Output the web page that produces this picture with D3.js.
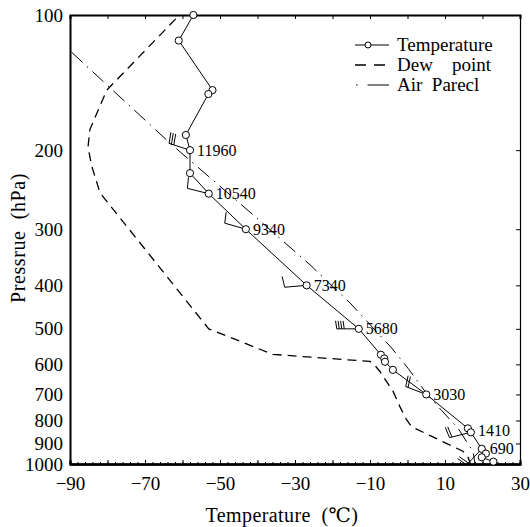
<!DOCTYPE html>
<html>
<head>
<meta charset="utf-8">
<script src="https://cdn.jsdelivr.net/npm/d3@7"></script>
<style>
  body { margin: 0; background: #fff; }
  svg text { font-family: "Liberation Serif", "DejaVu Serif", serif; fill: #000; }
</style>
</head>
<body>
<svg id="chart" width="530" height="527"></svg>
<script>
// temperature sounding (hPa, degC)
const tempP = [100, 114, 147, 150, 185, 200, 225, 250, 300, 400, 500, 571, 582, 592, 617, 700, 833, 850, 925, 948, 966, 988]
const tempT = [-57.1, -61.0, -52.0, -53.1, -59.1, -58.0, -58.0, -53.0, -43.1, -26.9, -13.0, -7.1, -6.2, -6.0, -3.9, 5.0, 16.1, 16.9, 19.8, 20.9, 19.8, 22.9]

// dew point
const dewP = [102, 147, 180, 197, 217, 249, 500, 570, 591, 603, 623, 690, 746, 798, 826, 938, 968, 1000]
const dewT = [-61.8, -80.2, -84.7, -85.2, -84.2, -82.0, -53.0, -35.9, -10.0, -8.7, -7.3, -3.8, -2.0, -0.2, 1.1, 14.9, 16.2, 16.8]

// air parcel
const parcelP = [121, 193, 279, 360, 438, 552, 613, 697, 760, 833, 940, 1000]
const parcelT = [-89.6, -63.3, -41.1, -26.0, -15.3, -4.2, 0.2, 5.1, 9.1, 13.5, 17.5, 18.0]

// height labels and wind barbs at standard levels
const levelP = [200, 250, 300, 400, 500, 700, 850, 925]
const levelH = ['11960', '10540', '9340', '7340', '5680', '3030', '1410', '690']
const windDir = [288, 284, 286, 265, 270, 291, 256, 223]
const windSpd = [30, 10, 10, 10, 40, 20, 20, 20]

const xTicks = [-90, -70, -50, -30, -10, 10, 30]
const yTicks = [100, 200, 300, 400, 500, 600, 700, 800, 900, 1000]

const svg = d3.select('#chart')
const mLeft = 70, mRight = 520, mTop = 15, mBottom = 464

const x = d3.scaleLinear().domain([-90, 30]).range([mLeft, mRight])
const y = d3.scaleLog().domain([100, 1000]).range([mTop, mBottom])

const fmt = d3.format('d')

// axes
const gBottom = svg.append('g').attr('transform', `translate(0,${mBottom})`)
gBottom.append('g')
  .call(d3.axisBottom(x).tickValues(d3.range(-90, 31, 2)).tickSize(-2).tickFormat(''))
gBottom.append('g')
  .call(d3.axisBottom(x).tickValues(d3.range(-90, 31, 10)).tickSize(-4).tickFormat(''))
gBottom.append('g')
  .call(d3.axisBottom(x).tickValues(xTicks).tickSize(0).tickPadding(13).tickFormat(d3.format('')))
gBottom.selectAll('.domain').attr('stroke-width', 2)

svg.append('g').attr('transform', `translate(0,${mTop})`)
  .call(d3.axisTop(x).tickValues(d3.range(-90, 31, 10)).tickSize(-4).tickFormat(''))
  .select('.domain').attr('stroke-width', 2)

svg.append('g').attr('transform', `translate(${mRight},0)`)
  .call(d3.axisRight(y).tickValues(yTicks).tickSize(-4).tickFormat(''))
  .select('.domain').attr('stroke-width', 1.2)

svg.append('g').attr('transform', `translate(${mLeft},0)`)
  .call(d3.axisLeft(y).tickValues(yTicks).tickSize(0).tickPadding(7).tickFormat(fmt))
  .select('.domain').attr('stroke-width', 2)

svg.selectAll('.tick text')
  .style('font-family', '"Liberation Serif", serif')
  .style('font-size', '19px')
  .attr('fill', '#000')
svg.selectAll('.domain, .tick line').attr('stroke', '#000')

// axis titles
svg.append('text')
  .attr('x', 282)
  .attr('y', 522)
  .attr('text-anchor', 'middle')
  .style('font-size', '20px')
  .style('letter-spacing', '0.4px')
  .style('white-space', 'pre')
  .text('Temperature  (℃)')

svg.append('text')
  .attr('transform', `translate(25,238) rotate(-90)`)
  .attr('text-anchor', 'middle')
  .style('font-size', '20px')
  .style('letter-spacing', '0.6px')
  .style('white-space', 'pre')
  .text('Pressrue  (hPa)')

const line = d3.line().x(d => x(d[1])).y(d => y(d[0]))

// dew point
svg.append('path')
  .datum(d3.zip(dewP, dewT))
  .attr('d', line)
  .attr('fill', 'none')
  .attr('stroke', '#000')
  .attr('stroke-width', 1.3)
  .attr('stroke-dasharray', '9,6')

// air parcel
svg.append('path')
  .datum(d3.zip(parcelP, parcelT))
  .attr('d', line)
  .attr('fill', 'none')
  .attr('stroke', '#000')
  .attr('stroke-width', 1)
  .attr('stroke-dasharray', '15,6,1.5,6')

// temperature
svg.append('path')
  .datum(d3.zip(tempP, tempT))
  .attr('d', line)
  .attr('fill', 'none')
  .attr('stroke', '#000')
  .attr('stroke-width', 1)

// wind barbs
const barbs = svg.append('g').attr('stroke', '#000').attr('stroke-width', 1).attr('fill', 'none')
levelP.forEach((p, i) => {
  const t = tempT[tempP.indexOf(p)]
  const px = x(t), py = y(p)
  const a = windDir[i] * Math.PI / 180
  const ux = Math.sin(a), uy = -Math.cos(a)
  const vx = -uy, vy = ux
  const L = 22
  const ex = px + L * ux, ey = py + L * uy
  barbs.append('line').attr('x1', px).attr('y1', py).attr('x2', ex).attr('y2', ey)
  const n = Math.floor(windSpd[i] / 10)
  const f = n > 3 ? 8 : 11
  for (let k = 0; k < n; k++) {
    const sx = ex - k * 2.5 * ux, sy = ey - k * 2.5 * uy
    barbs.append('line')
      .attr('x1', sx).attr('y1', sy)
      .attr('x2', sx + f * vx + 0.15 * f * ux)
      .attr('y2', sy + f * vy + 0.15 * f * uy)
  }
})

// temperature markers
svg.append('g').selectAll('circle')
  .data(d3.zip(tempP, tempT))
  .join('circle')
  .attr('cx', d => x(d[1]))
  .attr('cy', d => y(d[0]))
  .attr('r', 3.6)
  .attr('fill', '#fff')
  .attr('stroke', '#000')
  .attr('stroke-width', 1)

// height labels (the two lowest are nudged apart so they don't collide)
svg.append('g').selectAll('text')
  .data(levelP)
  .join('text')
  .attr('x', p => x(tempT[tempP.indexOf(p)]) + (p === 925 ? 8 : 7))
  .attr('y', p => y(p) + (p === 850 ? 4 : p === 925 ? 5.5 : 5.5))
  .style('font-size', '16px')
  .text((p, i) => levelH[i])

// legend
const legend = svg.append('g').attr('transform', 'translate(355,45)')
const items = ['Temperature', 'Dew    point', 'Air  Parecl']
items.forEach((name, i) => {
  const g = legend.append('g').attr('transform', `translate(0,${i * 20})`)
  if (i === 0) {
    g.append('line').attr('x1', 0).attr('x2', 34).attr('stroke', '#000')
    g.append('circle').attr('cx', 13).attr('r', 3).attr('fill', '#fff').attr('stroke', '#000')
  } else if (i === 1) {
    g.append('line').attr('x1', 0).attr('x2', 34).attr('stroke', '#000').attr('stroke-width', 1.3)
      .attr('stroke-dasharray', '11,8')
  } else {
    g.append('line').attr('x1', 1).attr('x2', 34).attr('stroke', '#000')
      .attr('stroke-dasharray', '1.5,10,22')
  }
  g.append('text')
    .attr('x', 42)
    .attr('y', 6)
    .style('font-size', '19px')
    .style('white-space', 'pre')
    .text(name)
})
</script>
</body>
</html>
